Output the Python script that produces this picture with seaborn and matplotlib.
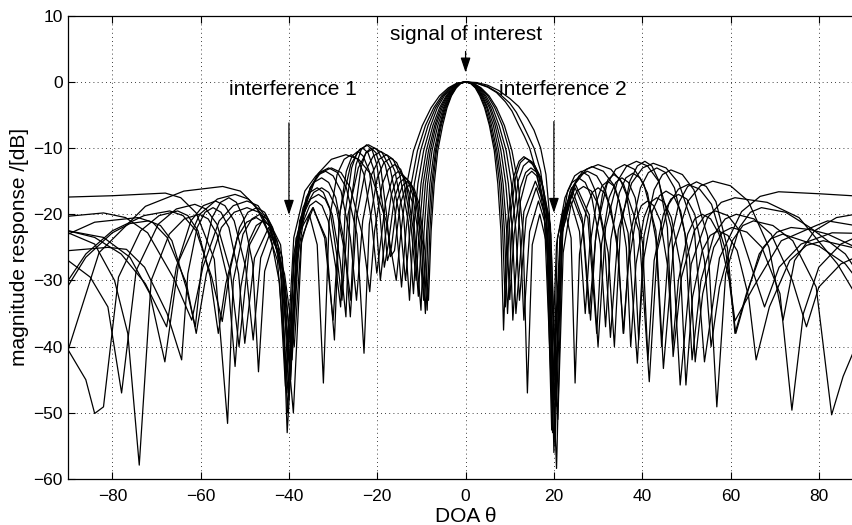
import matplotlib
matplotlib.use("Agg")
import pandas as pd
import matplotlib.pyplot as plt
import seaborn as sns

# Magnitude response curves (DOA in degrees, response in dB)
theta_c1 = [-90, -80, -68, -64.5, -61, -56.9, -53.9, -52.6, -50.4, -48.4, -46.6, -45.0, -43.3, -41.6, -40.4,
            -37.6, -33.6, -30.4, -27.1, -24.2, -21.4, -18.0, -15.7, -14.6, -13.3, -11.8, -9.8, -7.8, -5.9, -3.9,
            -2.0, 0, 2.5, 5, 7.5, 10, 12, 14, 15.5, 17, 18.2, 19, 20.3, 21.4, 23.1,
            24.7, 26.2, 27.9, 29.4, 31.4, 32.8, 34.6, 37.6, 40.1, 42.5, 45.4, 48.3, 51.8, 54.1, 57.5,
            62.5, 66.7, 70.9, 80, 90]
db_c1 = [-17.4, -17.2, -16.8, -17.5, -19.8, -26.8, -51.6, -30, -23, -20.7, -20, -20.7, -23, -30, -53,
         -21, -14, -11.7, -11, -11.7, -14, -21, -30, -22.5, -15.4, -10.4, -6.6, -3.9, -2.1, -0.9,
         -0.2, 0, -0.1, -0.5, -1.3, -2.5, -3.7, -5.5, -7.3, -10, -14, -20, -55, -23.5, -16.5,
         -14.2, -13.5, -14.2, -16.5, -23.5, -38.6, -22.3, -15.3, -13, -12.3, -13, -15.3, -22.3, -42.3, -26.6,
         -19.6, -17.3, -16.6, -16.9, -17.3]

theta_c2 = [-90, -83, -72.5, -63.8, -55, -51, -47.5, -42.2, -39.0, -37.1, -34.5, -31.9, -30, -28.4, -26,
            -24, -22, -20.1, -18.2, -16.0, -14.5, -13.5, -12.3, -10.9, -9.1, -7.2, -5.4, -3.6, -1.8, 0,
            2.5, 5, 7.5, 10, 11.5, 13, 14.3, 15.5, 17, 18.3, 19.0, 19.6, 21.8, 24.9, 28.0,
            30, 31.7, 34.4, 36.5, 38.7, 41.2, 43.7, 46.6, 48.6, 51.1, 54.8, 57.9, 61, 68.3, 75.5,
            84.2, 90]
db_c2 = [-40.5, -25.8, -18.8, -16.5, -15.8, -16.5, -18.8, -25.8, -50, -23.6, -19, -23.6, -36, -19.5, -12.5,
         -10.2, -9.5, -10.2, -12.5, -19.5, -31, -22.5, -15.4, -10.4, -6.6, -3.9, -2.1, -0.9, -0.2, 0,
         -0.2, -0.7, -1.7, -3.2, -4.6, -6.5, -8.3, -10, -13.5, -20, -28, -50, -20.1, -15.5, -20.1,
         -40, -22, -15, -12.7, -12, -12.7, -15, -22, -45.8, -27.5, -20.5, -18.2, -17.5, -18.2, -20.5,
         -27.5, -34]

theta_c3 = [-90, -82, -76, -71.5, -68.1, -64.9, -60.2, -56.2, -52.2, -49.2, -46.1, -42.6, -40.2, -38.9, -36.8,
            -35.3, -33.6, -32.2, -30.8, -29.2, -28.0, -26.6, -24.3, -22.5, -20.6, -18.9, -17.1, -15.0, -13.6, -12.6,
            -11.6, -10.2, -8.5, -6.8, -5.1, -3.4, -1.7, 0, 2.5, 5, 7, 9, 10.5, 12, 13.3,
            14.5, 16.2, 17.8, 19, 20.6, 22.0, 24, 26.4, 28.0, 29.6, 32.0, 34, 36, 38.2, 40.4,
            43.1, 44.8, 47.1, 50.4, 53.2, 56, 60, 64.0, 68.7, 71.9, 74.5, 79, 84, 90]
db_c3 = [-22.5, -23.5, -26.5, -32, -42.3, -27, -20, -17.7, -17, -17.7, -20, -27, -47, -26, -19,
         -16.7, -16, -16.7, -19, -26, -33, -20, -13, -10.7, -10, -10.7, -13, -20, -30, -22.5,
         -15.4, -10.4, -6.6, -3.9, -2.1, -0.9, -0.2, 0, -0.2, -0.8, -1.6, -3, -4.4, -6.5, -8.2,
         -10, -14, -20, -30, -58.4, -20.6, -16, -20.6, -35, -22.5, -15.5, -13.2, -12.5, -13.2, -15.5,
         -22.5, -43.3, -25, -18, -15.7, -15, -15.7, -18, -25, -36, -27, -22.5, -20.5, -19.8]

theta_c4 = [-90, -82, -77, -72, -66, -62, -59.5, -55.8, -52.6, -49.5, -47, -44.8, -41.6, -39.6, -38.2,
            -36.1, -34.4, -32.6, -31.0, -29.4, -27.4, -26.1, -24.7, -22.7, -20.9, -19.2, -17.6, -16.0, -14.0, -12.7,
            -11.8, -10.8, -9.5, -7.9, -6.4, -4.8, -3.2, -1.6, 0, 1.8, 3.5, 5.3, 7, 8.8, 10.5,
            11.9, 13.0, 14, 15.1, 16.8, 18.4, 19.5, 21.6, 24.7, 27.4, 30, 32.9, 35.8, 39.3, 41.6,
            43.4, 46, 48.2, 50.4, 53, 55.7, 58.9, 61, 65.2, 71.5, 79.4, 82, 90]
db_c4 = [-20.3, -19.8, -20.5, -22.8, -29.8, -36, -28, -21, -18.7, -18, -18.7, -21, -28, -45, -24.5,
         -17.5, -15.2, -14.5, -15.2, -17.5, -24.5, -35.5, -20.5, -13.5, -11.2, -10.5, -11.2, -13.5, -20.5, -33,
         -22.5, -15.4, -10.4, -6.6, -3.9, -2.1, -0.9, -0.2, 0, -0.2, -0.9, -2.1, -3.9, -6.6, -10.4,
         -15.4, -22.5, -47, -24.6, -20, -24.6, -52.6, -22.5, -15.5, -13.2, -12.5, -13.2, -15.5, -22.5, -45.3,
         -25.5, -18.5, -16.2, -15.5, -16.2, -18.5, -25.5, -36.1, -31, -24, -21.7, -21, -21.9]

theta_c5 = [-90, -86, -80, -72.8, -67, -64, -61, -57.5, -55.1, -53.5, -51.2, -49.3, -47.3, -45.5, -43.7,
            -41.8, -40.6, -38.9, -36.4, -33.9, -31.7, -30.0, -28.2, -26.1, -24.7, -23.3, -21.3, -19.6, -17.9, -16.4,
            -14.9, -13.0, -11.8, -11.0, -10.1, -8.9, -7.4, -5.9, -4.4, -3.0, -1.5, 0, 1.7, 3.3, 5.0,
            6.6, 8.3, 9.9, 11.2, 12.3, 13.2, 14.5, 16.5, 18.6, 20.2, 21.9, 24.4, 26.5, 28.6, 31.2,
            33.8, 36.8, 38.9, 40.4, 42.7, 44.6, 46.5, 49.1, 51.7, 54.8, 56.9, 58.9, 62.0, 64.5, 67,
            72.5, 78, 86, 90]
db_c5 = [-30, -26, -22.5, -20.2, -19.5, -20.2, -22.5, -29.5, -36.2, -29, -22, -19.7, -19, -19.7, -22,
         -29, -44, -23.5, -16.5, -14.2, -13.5, -14.2, -16.5, -23.5, -33, -21, -14, -11.7, -11, -11.7,
         -14, -21, -32, -22.5, -15.4, -10.4, -6.6, -3.9, -2.1, -0.9, -0.2, 0, -0.2, -0.9, -2.1,
         -3.9, -6.6, -10.4, -15.4, -22.5, -36, -22.6, -18, -22.6, -48, -22.8, -15.8, -13.5, -12.8, -13.5,
         -15.8, -22.8, -42.5, -23.3, -16.3, -14, -13.3, -14, -16.3, -23.3, -49.1, -29, -22, -19.7, -19,
         -19.7, -22, -26, -30]

theta_c6 = [-90, -85, -81, -77.9, -74.6, -69.6, -65.5, -61.3, -58.8, -56.3, -53.3, -51.3, -48.9, -45.3, -41.9,
            -39.3, -37.6, -35.2, -33.1, -31, -29, -27, -24.6, -23, -21.8, -20, -18.5, -17, -15.6, -14.1,
            -12.4, -11.2, -10.5, -9.6, -8.4, -7.0, -5.6, -4.2, -2.8, -1.4, 0, 1.5, 3.1, 4.6, 6.1,
            7.6, 9.2, 10.4, 11.4, 12.2, 13.7, 16, 18.2, 19.8, 21.4, 23.7, 25.7, 27.6, 29.7, 31.7,
            34.2, 35.8, 37.3, 39.6, 41.4, 43.3, 45.3, 47.3, 49.7, 51.3, 53.3, 56.3, 58.8, 61.3, 65.3,
            69.2, 74.0, 77.2, 80, 85, 90]
db_c6 = [-27, -29.5, -34, -47, -28.5, -21.5, -19.2, -18.5, -19.2, -21.5, -28.5, -40, -24.6, -20, -24.6,
         -42, -23, -16, -13.7, -13, -13.7, -16, -23, -41, -21.5, -14.5, -12.2, -11.5, -12.2, -14.5,
         -21.5, -30, -22.5, -15.4, -10.4, -6.6, -3.9, -2.1, -0.9, -0.2, 0, -0.2, -0.9, -2.1, -3.9,
         -6.6, -10.4, -15.4, -22.5, -33, -20.6, -16, -20.6, -45, -23.5, -16.5, -14.2, -13.5, -14.2, -16.5,
         -23.5, -38, -23, -16, -13.7, -13, -13.7, -16, -23, -42, -30, -23, -20.7, -20, -20.7,
         -23, -30, -37, -31, -27.5, -26]

theta_c7 = [-90, -84, -78, -72.5, -67.7, -65.5, -62.2, -59.4, -56.6, -54.5, -52.4, -49.8, -48.1, -46.4, -43.8,
            -41.5, -40, -38.1, -35.2, -32.8, -30.4, -28.2, -26.1, -23.4, -21.7, -20.6, -18.9, -17.5, -16.1, -14.7,
            -13.4, -11.8, -10.7, -9.9, -9.1, -8.0, -6.7, -5.3, -4.0, -2.7, -1.3, 0, 1.4, 2.9, 4.3,
            5.7, 7.1, 8.6, 9.7, 10.6, 11.4, 13.2, 15.8, 18.6, 20.9, 22.1, 23.8, 25.2, 26.7, 28.5,
            30.2, 32.3, 33.7, 35.1, 37.2, 38.9, 40.6, 42.2, 43.8, 45.7, 47, 48.9, 51.8, 54.2, 56.6,
            59.4, 62.1, 65.5, 67.7, 71, 76, 83, 90]
db_c7 = [-22.5, -23.5, -26, -30.5, -37, -28, -21, -18.7, -18, -18.7, -21, -28, -39, -26.6, -22,
         -26.6, -48, -23, -16, -13.7, -13, -13.7, -16, -23, -31.7, -22.5, -15.5, -13.2, -12.5, -13.2,
         -15.5, -22.5, -32.4, -22.5, -15.4, -10.4, -6.6, -3.9, -2.1, -0.9, -0.2, 0, -0.2, -0.9, -2.1,
         -3.9, -6.6, -10.4, -15.4, -22.5, -35, -19.6, -15, -19.6, -51, -25.8, -18.8, -16.5, -15.8, -16.5,
         -18.8, -25.8, -40, -22, -15, -12.7, -12, -12.7, -15, -22, -41.5, -29.5, -22.5, -20.2, -19.5,
         -20.2, -22.5, -29.5, -34, -28, -24.5, -22.8, -22.9]

theta_c8 = [-90, -84, -74.2, -70.9, -67.6, -63.2, -61.0, -58.7, -55.3, -52.4, -49.5, -46.8, -44.2, -41.0, -38.8,
            -37.3, -35.4, -33.6, -32.2, -30.9, -29.1, -27.5, -25.9, -24.4, -23.0, -21.3, -20.1, -18.1, -16.4, -15.2,
            -14.0, -12.1, -10.1, -9.4, -8.6, -7.6, -6.3, -5.0, -3.8, -2.5, -1.3, 0, 1.3, 2.7, 4.0,
            5.4, 6.7, 8.0, 9.1, 10.0, 10.7, 12.4, 13.9, 15.0, 16.1, 17.7, 19.4, 20.6, 22.5, 24.1,
            25.6, 27.1, 28.6, 30.5, 31.7, 32.9, 34.8, 36.3, 37.9, 39.5, 41.2, 43.1, 44.4, 46.0, 48.4,
            50.3, 52.3, 54.5, 56.7, 59.3, 61.0, 63.6, 67.4, 70.5, 73.7, 78, 82, 90]
db_c8 = [-23, -21.2, -20.5, -21.2, -23.5, -30.5, -38, -29, -22, -19.7, -19, -19.7, -22, -29, -40,
         -24.6, -20, -24.6, -45.5, -21, -14, -11.7, -11, -11.7, -14, -21, -28.9, -18.1, -14.2, -13.5,
         -14.2, -18.1, -34.5, -22.5, -15.4, -10.4, -6.6, -3.9, -2.1, -0.9, -0.2, 0, -0.2, -0.9, -2.1,
         -3.9, -6.6, -10.4, -15.4, -22.5, -36, -18.1, -14.2, -13.5, -14.2, -18.1, -46, -24.5, -17.5, -15.2,
         -14.5, -15.2, -17.5, -24.5, -37, -23.8, -16.8, -14.5, -13.8, -14.5, -16.8, -23.8, -40, -25.1, -18.1,
         -15.8, -15.1, -15.8, -18.1, -25.1, -38, -32, -25, -22.7, -22, -22.3, -23, -25.5]

theta_c9 = [-90, -86, -84, -82, -78.6, -73.6, -69.4, -65.2, -62.9, -60.6, -57.8, -56, -54.3, -51.7, -49.6,
            -47.4, -45.8, -44.1, -42.1, -40.8, -38.4, -34.6, -31.6, -29.7, -28.6, -27.0, -25.7, -24.4, -23.2, -21.8,
            -20.3, -19.3, -18.3, -16.8, -15.6, -14.4, -13.2, -12.0, -10.5, -9.5, -8.8, -8.1, -7.1, -5.9, -4.8,
            -3.6, -2.4, -1.2, 0, 1.3, 2.5, 3.8, 5, 6.3, 7.5, 8.5, 9.3, 10, 11.0, 12.4,
            13.6, 14.8, 16.2, 17.6, 19.3, 20.4, 22.2, 24.8, 27.7, 29.7, 30.8, 32.5, 34.0, 35.4, 36.9,
            38.4, 40.1, 41.3, 42.7, 44.8, 46.5, 48.2, 50.1, 51.9, 54.1, 55.6, 57.5, 60.4, 62.8, 65.2,
            69.6, 74.1, 79.4, 82.9, 85.5, 87.7, 90]
db_c9 = [-40.5, -45, -50.1, -49.1, -29.5, -22.5, -20.2, -19.5, -20.2, -22.5, -29.5, -38, -30.5, -23.5, -21.2,
         -20.5, -21.2, -23.5, -30.5, -46, -23.6, -19, -23.6, -39, -20.5, -13.5, -11.2, -10.5, -11.2, -13.5,
         -20.5, -30, -24, -17, -14.7, -14, -14.7, -17, -24, -33, -22.5, -15.4, -10.4, -6.6, -3.9,
         -2.1, -0.9, -0.2, 0, -0.2, -0.9, -2.1, -3.9, -6.6, -10.4, -15.4, -22.5, -32.9, -23, -16,
         -13.7, -13, -13.7, -16, -23, -44, -20.6, -16, -20.6, -38, -24.5, -17.5, -15.2, -14.5, -15.2,
         -17.5, -24.5, -42, -27, -20, -17.7, -17, -17.7, -20, -27, -40, -31, -24, -21.7, -21,
         -21.7, -24, -31, -50.3, -44.5, -41, -38]

theta_c10 = [-90, -84, -79.5, -76.5, -73.9, -71.2, -67.1, -63.7, -60.3, -58.3, -56.3, -53.8, -52.2, -50.9, -49.0,
             -47.4, -45.8, -44.4, -42.7, -40.8, -39.5, -38.4, -36.7, -35.3, -33.9, -32.5, -31.1, -29.4, -28.3, -27.3,
             -25.8, -24.6, -23.3, -22.1, -20.9, -19.4, -18.4, -17.5, -16.1, -14.9, -13.7, -12.5, -11.4, -10.0, -9.1,
             -8.5, -7.7, -6.8, -5.7, -4.6, -3.4, -2.3, -1.1, 0, 1.2, 2.4, 3.6, 4.8, 5.9, 7.1,
             8.1, 8.8, 9.5, 10.5, 11.9, 13.1, 14.3, 15.7, 17.2, 18.9, 20, 21.6, 24, 26.6, 28.3,
             29.4, 31.0, 32.3, 33.6, 35.0, 36.4, 38.1, 39.2, 40.4, 42.3, 43.9, 45.4, 47.1, 48.7, 50.7,
             52, 53.7, 56.2, 58.2, 60.3, 63.7, 67.1, 71.2, 73.9, 76.5, 80, 85, 90]
db_c10 = [-22.8, -24.5, -30, -38, -57.9, -30, -23, -20.7, -20, -20.7, -23, -30, -43, -31, -24,
          -21.7, -21, -21.7, -24, -31, -41, -28, -21, -18.7, -18, -18.7, -21, -28, -34, -20,
          -13, -10.7, -10, -10.7, -13, -20, -28, -24.5, -17.5, -15.2, -14.5, -15.2, -17.5, -24.5, -35,
          -22.5, -15.4, -10.4, -6.6, -3.9, -2.1, -0.9, -0.2, 0, -0.2, -0.9, -2.1, -3.9, -6.6, -10.4,
          -15.4, -22.5, -35, -22, -15, -12.7, -12, -12.7, -15, -22, -56, -21.6, -17, -21.6, -36,
          -24, -17, -14.7, -14, -14.7, -17, -24, -39, -26.5, -19.5, -17.2, -16.5, -17.2, -19.5, -26.5,
          -42.3, -32, -25, -22.7, -22, -22.7, -25, -32, -49.6, -35, -28, -24.5, -23]

theta_c11 = [-90, -81, -76.8, -72.7, -67.6, -64.3, -62.9, -60.8, -59.0, -57.2, -55.4, -53.6, -51.4, -50, -47.8,
             -44.6, -42.0, -40.3, -38.9, -36.7, -35.1, -33.3, -31.8, -30.2, -28.4, -27.1, -26.2, -24.8, -23.6, -22.4,
             -21.2, -20.1, -18.6, -17.7, -16.8, -15.5, -14.3, -13.2, -12.1, -11.0, -9.6, -8.7, -8.1, -7.4, -6.6,
             -5.5, -4.4, -3.3, -2.2, -1.1, 0, 1.1, 2.3, 3.4, 4.5, 5.6, 6.8, 7.7, 8.4, 9,
             9.9, 11.3, 12.4, 13.5, 15.3, 17.1, 19.2, 20.6, 21.9, 23.8, 25.8, 27.1, 28.1, 29.7, 30.9,
             32.2, 33.5, 34.8, 36.4, 37.4, 38.6, 40.4, 41.8, 43.3, 45.0, 46.6, 48.6, 49.9, 51.4, 53.6,
             55.4, 57.2, 59.4, 61.5, 64.1, 65.8, 68.8, 73.4, 77.2, 81, 90]
db_c11 = [-25.5, -25, -25.3, -28, -35, -42, -29, -22, -19.7, -19, -19.7, -22, -29, -39.5, -26.6,
          -22, -26.6, -50, -27, -20, -17.7, -17, -17.7, -20, -27, -35.5, -19.5, -12.5, -10.2, -9.5,
          -10.2, -12.5, -19.5, -27, -25, -18, -15.7, -15, -15.7, -18, -25, -34.5, -22.5, -15.4, -10.4,
          -6.6, -3.9, -2.1, -0.9, -0.2, 0, -0.2, -0.9, -2.1, -3.9, -6.6, -10.4, -15.4, -22.5, -34,
          -21.5, -14.5, -12.2, -11.5, -12.2, -14.5, -21.5, -49, -22.6, -18, -22.6, -35, -25, -18, -15.7,
          -15, -15.7, -18, -25, -40, -27.5, -20.5, -18.2, -17.5, -18.2, -20.5, -27.5, -45.8, -32.5, -25.5,
          -23.2, -22.5, -23.2, -25.5, -32.5, -42, -34, -27, -24.7, -24, -25.4]

theta_c12 = [-90, -86, -80, -76, -71.8, -69.1, -66.5, -63.3, -61.2, -59.7, -57.4, -55.5, -53.6, -51.9, -50.3,
             -48.2, -46.9, -45.5, -43.4, -41.3, -39.8, -38.4, -36.3, -34.4, -32.6, -31.0, -29.3, -27.3, -26.0, -25.1,
             -23.7, -22.6, -21.4, -20.3, -19.2, -17.9, -17.0, -16.1, -14.8, -13.7, -12.6, -11.6, -10.5, -9.2, -8.4,
             -7.8, -7.1, -6.3, -5.2, -4.2, -3.2, -2.1, -1.1, 0, 1.1, 2.2, 3.2, 4.3, 5.4, 6.5,
             7.3, 8.0, 8.6, 9.5, 10.9, 12.1, 13.2, 14.8, 16.6, 18.4, 19.7, 20.8, 22.4, 23.9, 24.8,
             25.8, 27.4, 28.7, 30, 31.4, 32.9, 34.6, 35.7, 36.8, 38.5, 39.8, 41.2, 42.6, 44.1, 45.8,
             46.9, 48.2, 50.3, 51.9, 53.6, 55.5, 57.4, 59.7, 61.2, 63.3, 66.5, 69.1, 71.8, 80, 86, 90]
db_c12 = [-30.8, -26.5, -22.8, -21.4, -21, -21.7, -24, -31, -37, -27.5, -20.5, -18.2, -17.5, -18.2, -20.5,
          -27.5, -43.8, -28.6, -24, -28.6, -43, -26, -19, -16.7, -16, -16.7, -19, -26, -33, -20,
          -13, -10.7, -10, -10.7, -13, -20, -26.4, -25.5, -18.5, -16.2, -15.5, -16.2, -18.5, -25.5, -33,
          -22.5, -15.4, -10.4, -6.6, -3.9, -2.1, -0.9, -0.2, 0, -0.2, -0.9, -2.1, -3.9, -6.6, -10.4,
          -15.4, -22.5, -37.5, -21.3, -14.3, -12, -11.3, -12, -14.3, -21.3, -53, -23.6, -19, -23.6, -45.5,
          -26, -19, -16.7, -16, -16.7, -19, -26, -38, -28, -21, -18.7, -18, -18.7, -21, -28,
          -40, -30, -23, -20.7, -20, -20.7, -23, -30, -38, -33, -26, -23.7, -23, -24.8, -27.5, -31]

curves = [
    (theta_c1, db_c1), (theta_c2, db_c2), (theta_c3, db_c3), (theta_c4, db_c4),
    (theta_c5, db_c5), (theta_c6, db_c6), (theta_c7, db_c7), (theta_c8, db_c8),
    (theta_c9, db_c9), (theta_c10, db_c10), (theta_c11, db_c11), (theta_c12, db_c12),
]

frames = []
for i, (t, d) in enumerate(curves, start=1):
    frames.append(pd.DataFrame({"theta": t, "db": d, "curve": i}))
df = pd.concat(frames, ignore_index=True)

sns.set_style("ticks")
plt.rcParams["font.family"] = ["Liberation Sans", "DejaVu Sans"]
plt.rcParams["text.color"] = "black"
plt.rcParams["axes.labelcolor"] = "black"

fig = plt.figure(figsize=(8.52, 5.25), dpi=100)
# right edge of the box falls just outside the picture, as in the original
ax = fig.add_axes([0.080, 0.0876, 0.9329, 0.8825])

sns.lineplot(data=df, x="theta", y="db", units="curve", estimator=None, sort=False,
             color="black", linewidth=0.9, legend=False, ax=ax)

ax.set_xlim(-90, 90)
ax.set_ylim(-60, 10)
ax.set_xticks(range(-80, 81, 20))
ax.set_yticks(range(-60, 11, 10))
ax.grid(True, color="black", linestyle=(0, (1, 4)), linewidth=0.6)
ax.set_axisbelow(True)
ax.tick_params(direction="in", length=5, width=0.8, top=True, right=True,
               labelsize=12.5, colors="black", labelcolor="black")
ax.tick_params(axis="x", pad=7)
ax.tick_params(axis="y", pad=4)
for s in ax.spines.values():
    s.set_visible(True)
    s.set_color("black")
    s.set_linewidth(0.9)

ax.set_xlabel("DOA θ", fontsize=15, labelpad=2, color="black")
ax.set_ylabel("magnitude response /[dB]", fontsize=15, labelpad=3, color="black")

arrow = dict(arrowstyle="-|>,head_length=0.9,head_width=0.3", color="black",
             lw=0.9, shrinkA=0, shrinkB=0)
ax.text(0, 7.1, "signal of interest", ha="center", va="center", fontsize=15, color="black")
ax.annotate("", xy=(0, 1.4), xytext=(0, 4.6), arrowprops=arrow)
ax.text(-39, -1.2, "interference 1", ha="center", va="center", fontsize=15, color="black")
ax.annotate("", xy=(-40, -20.1), xytext=(-40, -6.2), arrowprops=arrow)
ax.text(22.1, -1.2, "interference 2", ha="center", va="center", fontsize=15, color="black")
ax.annotate("", xy=(20, -19.8), xytext=(20, -6.0), arrowprops=arrow)

fig.savefig("out.png", dpi=100)
